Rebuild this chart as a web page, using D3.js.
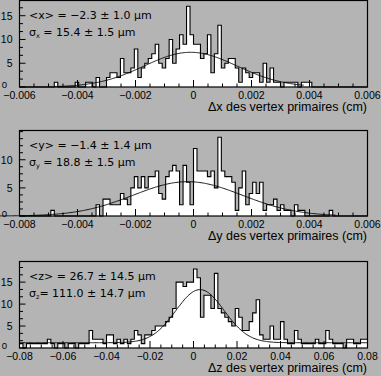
<!DOCTYPE html>
<html><head><meta charset="utf-8">
<script src="https://cdn.jsdelivr.net/npm/d3@7"></script>
<style>body{margin:0;background:#b4b4b4}svg{display:block}</style>
</head><body><svg id="c" width="381" height="376"></svg>
<script>
// ---------- data ----------
const binsX = [
0,0,0,0,0,0,0,0,0,0,
1,0,0,0,0,0,1,0,0,1,
1,0,2,0,0,2,3,3,2,6,
3,3,4,8,2,4,5,6,7,9,
5,4,6,10,5,8,11,9,17,11,
9,9,6,7,11,3,7,13,4,5,
6,6,4,1,4,3,2,3,3,1,
5,1,4,1,1,0,1,1,1,1,
0,1,1,1,0,0,0,0,0,0,
0,0,0,0,0,0,0,0,0,0];
const binsY = [
0,0,0,0,0,0,0,0,0,1,
0,0,0,0,0,0,0,0,0,0,
0,0,2,0,3,3,2,2,2,4,
3,2,5,7,5,7,5,7,7,8,
4,3,7,8,9,8,2,9,6,2,
12,8,8,8,7,8,5,14,8,7,
7,6,1,5,8,2,4,6,4,6,
1,2,2,3,1,2,1,1,0,2,
1,1,0,0,0,0,0,0,0,1,
0,0,0,0,0,0,0,0,0,0];
const binsZ = [
1,0,1,1,1,1,1,1,2,1,
0,1,1,0,1,1,0,1,1,1,
4,2,2,2,1,3,3,1,2,1,
2,1,2,4,3,1,3,3,4,5,
5,5,6,7,9,15,15,14,15,15,
18,16,7,12,12,9,17,9,8,7,
6,5,9,7,4,4,6,8,11,3,
2,2,5,2,2,6,2,1,1,4,
2,1,1,1,1,2,1,1,4,2,
1,1,1,0,2,2,1,1,2,2];

const xRanges = [[-0.006,0.006],[-0.006,0.006],[-0.08,0.08]];
const xTickValues = [
  [-0.006,-0.004,-0.002,0,0.002,0.004,0.006],
  [-0.006,-0.004,-0.002,0,0.002,0.004,0.006],
  [-0.08,-0.06,-0.04,-0.02,0,0.02,0.04,0.06,0.08]];
const xTickLabels = [
  ["\u22120.006","\u22120.004","\u22120.002","0","0.002","0.004","0.006"],
  ["\u22120.008","\u22120.004","\u22120.002","0","0.002","0.004","0.006"],
  ["\u22120.08","\u22120.06","\u22120.04","\u22120.02","0","0.02","0.04","0.06","0.08"]];
const xMinorSteps = [0.0005,0.0005,0.005];
const yMax = [18.2,15.2,19.7];
const yTickValues = [[0,5,10,15],[0,5,10],[0,5,10,15]];
const yTickLabels = [["0","5","10","15"],["0","5","10"],["0","5","10","15"]];
const yMinorSteps = [5/3,5/4,5/3];

const fitAmp = [7.3,6.1,12.1];
const fitMean = [-0.0001,-0.0002,0.003];
const fitSigma = [0.0016,0.00188,0.0111];
const fitBg = [0,0,1.2];
const fitRange = [[-0.0048,0.0038],[-0.0069,0.0049],[-0.08,0.08]];

const statMean = ["<x> = \u22122.3 \u00b1 1.0 \u03bcm","<y> = \u22121.4 \u00b1 1.4 \u03bcm","<z> = 26.7 \u00b1 14.5 \u03bcm"];
const statSigSub = ["x","y","z"];
const statSigRest = [" = 15.4 \u00b1 1.5 \u03bcm"," = 18.8 \u00b1 1.5 \u03bcm","= 111.0 \u00b1 14.7 \u03bcm"];
const axisTitles = ["\u0394x des vertex primaires (cm)","\u0394y des vertex primaires (cm)","\u0394z des vertex primaires (cm)"];
const allBins = [binsX,binsY,binsZ];

// ---------- layout ----------
const frames = [{top:0.5,bottom:87},{top:130.5,bottom:216},{top:261.5,bottom:348}];
const left = 19.5, right = 367.5;
const svg = d3.select("#c");
svg.append("rect").attr("width",381).attr("height",376).attr("fill","#b4b4b4");

allBins.forEach((bins,p)=>{
  const f = frames[p];
  const [lo,hi] = xRanges[p];
  const x = d3.scaleLinear().domain([lo,hi]).range([left,right]);
  const y = d3.scaleLinear().domain([0,yMax[p]]).range([f.bottom,f.top]);
  const g = svg.append("g");
  const bw = (hi-lo)/bins.length;
  const pts = [];
  bins.forEach((v,i)=>{ pts.push([lo+i*bw,v]); pts.push([lo+(i+1)*bw,v]); });
  g.append("path")
    .attr("d", d3.area().x(d=>x(d[0])).y0(y(0)).y1(d=>y(d[1]))(pts))
    .attr("fill","#fff");
  g.append("path")
    .attr("d", d3.line().x(d=>x(d[0])).y(d=>y(d[1]))(pts))
    .attr("fill","none").attr("stroke","#000").attr("stroke-width",1.1);
  const [a,b] = fitRange[p];
  const fpts = d3.range(0,301).map(k=>{
    const xv = a+(b-a)*k/300;
    return [xv, fitBg[p]+fitAmp[p]*Math.exp(-0.5*Math.pow((xv-fitMean[p])/fitSigma[p],2))];
  });
  g.append("path")
    .attr("d", d3.line().x(d=>x(d[0])).y(d=>y(d[1]))(fpts))
    .attr("fill","none").attr("stroke","#000").attr("stroke-width",0.9);
  g.append("rect").attr("x",left).attr("y",f.top).attr("width",right-left).attr("height",f.bottom-f.top)
    .attr("fill","none").attr("stroke","#000").attr("stroke-width",1.2);
  const minorX = d3.range(Math.round((hi-lo)/xMinorSteps[p])+1).map(k=>lo+k*xMinorSteps[p]);
  minorX.forEach(v=>{
    const major = xTickValues[p].some(t=>Math.abs(t-v)<1e-9);
    g.append("line").attr("x1",x(v)).attr("x2",x(v)).attr("y1",f.bottom).attr("y2",f.bottom-(major?7:3.5))
      .attr("stroke","#000").attr("stroke-width",1);
  });
  xTickValues[p].forEach((v,i)=>{
    g.append("text").attr("x",x(v)).attr("y",f.bottom+11.5).attr("text-anchor","middle")
      .attr("font-family","Liberation Sans, Arial, sans-serif").attr("font-size",10.5)
      .text(xTickLabels[p][i]);
  });
  const nMinor = Math.floor(yMax[p]/yMinorSteps[p]+1e-6);
  d3.range(nMinor+1).map(k=>k*yMinorSteps[p]).forEach(v=>{
    const major = yTickValues[p].some(t=>Math.abs(t-v)<1e-6);
    g.append("line").attr("x1",left).attr("x2",left+(major?6:3.5)).attr("y1",y(v)).attr("y2",y(v))
      .attr("stroke","#000").attr("stroke-width",1);
  });
  yTickValues[p].forEach((v,i)=>{
    const isZero = v===0;
    g.append("text").attr("x", isZero? 7 : 12.5).attr("y",y(v)+(isZero?1:4))
      .attr("text-anchor","end")
      .attr("font-family","Liberation Sans, Arial, sans-serif").attr("font-size",isZero?9.5:10.5)
      .text(yTickLabels[p][i]);
  });
  const fs = "DejaVu Sans, sans-serif";
  g.append("text").attr("x",29).attr("y",f.top+18.5).attr("font-family",fs).attr("font-size",11)
    .text(statMean[p]);
  const t2 = g.append("text").attr("x",29).attr("y",f.top+35).attr("font-family",fs).attr("font-size",11);
  t2.append("tspan").text("\u03c3");
  t2.append("tspan").attr("font-size",6.5).attr("dy",2).text(statSigSub[p]);
  t2.append("tspan").attr("dy",-2).text(statSigRest[p]);
  g.append("text").attr("x",367).attr("y",f.bottom+24).attr("text-anchor","end")
    .attr("font-family","Liberation Sans, Arial, sans-serif").attr("font-size",12.5)
    .text(axisTitles[p]);
});
</script></body></html>
